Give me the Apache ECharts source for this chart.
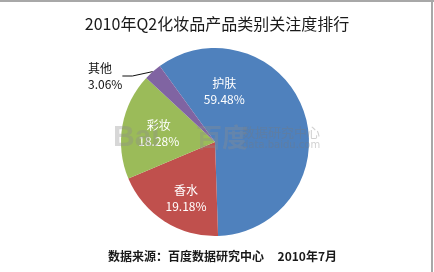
<!DOCTYPE html>
<html>
<head>
<meta charset="utf-8">
<script src="https://cdn.jsdelivr.net/npm/echarts@6/dist/echarts.min.js"></script>
<style>html,body{margin:0;padding:0;background:#fff;}#c{width:434px;height:272px;}</style>
</head>
<body>
<div id="c"></div>
<script>
var categories = ['护肤', '香水', '彩妆', '其他'];
var values = [59.48, 19.18, 18.28, 3.06];
var colors = ['#4F81BD', '#C0504D', '#9BBB59', '#8064A2'];
var titleText = '2010年Q2化妆品产品类别关注度排行';
var sourceText = '数据来源：百度数据研究中心     2010年7月';

var labelOffsets = [[-38, -34], [-2, 14], [-7, 0], [0, 0]];

var chart = echarts.init(document.getElementById('c'), null, {renderer: 'canvas'});
var font = '"Noto Sans CJK SC", "Noto Sans", sans-serif';

var data = categories.map(function (name, i) {
  var item = {name: name, value: values[i], itemStyle: {color: colors[i]}};
  if (i < 3) {
    item.label = {position: 'inside', offset: labelOffsets[i], color: '#fff'};
    item.labelLine = {show: false};
  } else {
    item.label = {position: 'outside', color: '#111', align: 'left'};
    item.labelLine = {show: true, length: 10, length2: 10, lineStyle: {color: '#111', width: 1}};
  }
  return item;
});

chart.setOption({
  animation: false,
  backgroundColor: '#fff',
  title: {
    text: titleText,
    left: 'center',
    top: 11,
    textStyle: {fontFamily: font, fontSize: 16, fontWeight: 'normal', color: '#1a1a1a'}
  },
  graphic: [
    {type: 'text', left: 113, top: 123, z: 100, silent: true,
     style: {text: 'Bai', fontFamily: 'Liberation Sans, Arial, sans-serif', fontWeight: 'bold', fontSize: 30, fill: 'rgba(140,140,140,0.35)'}},
    {type: 'text', left: 196, top: 124, z: 100, silent: true,
     style: {text: '百度', fontFamily: font, fontWeight: 'bold', fontSize: 26, fill: 'rgba(140,140,140,0.35)'}},
    {type: 'text', left: 242, top: 126, z: 100, silent: true,
     style: {text: '数据研究中心', fontFamily: font, fontSize: 13, fill: 'rgba(120,120,120,0.35)'}},
    {type: 'text', left: 242, top: 140, z: 100, silent: true,
     style: {text: 'data.baidu.com', fontFamily: 'DejaVu Sans, sans-serif', fontSize: 10, fill: 'rgba(120,120,120,0.35)'}},
    {type: 'text', left: 108, top: 250, silent: true,
     style: {text: sourceText, fontFamily: font, fontSize: 12, fontWeight: 'bold', fill: '#1a1a1a'}},
    {type: 'rect', shape: {x: 0, y: 0, width: 434, height: 2}, style: {fill: '#a8a8a8'}, silent: true},
    {type: 'rect', shape: {x: 431, y: 0, width: 2, height: 272}, style: {fill: '#a8a8a8'}, silent: true}
  ],
  series: [{
    type: 'pie',
    center: [215, 142],
    radius: 94,
    startAngle: 126,
    clockwise: true,
    avoidLabelOverlap: false,
    label: {
      show: true,
      formatter: '{b}\n{c}%',
      fontFamily: font,
      fontSize: 12,
      lineHeight: 16
    },
    labelLayout: function (params) {
      if (params.dataIndex === 3) {
        return {x: 88, y: 76, align: 'left', verticalAlign: 'middle'};
      }
    },
    itemStyle: {borderWidth: 0},
    emphasis: {disabled: true},
    data: data
  }]
});
</script>
</body>
</html>
